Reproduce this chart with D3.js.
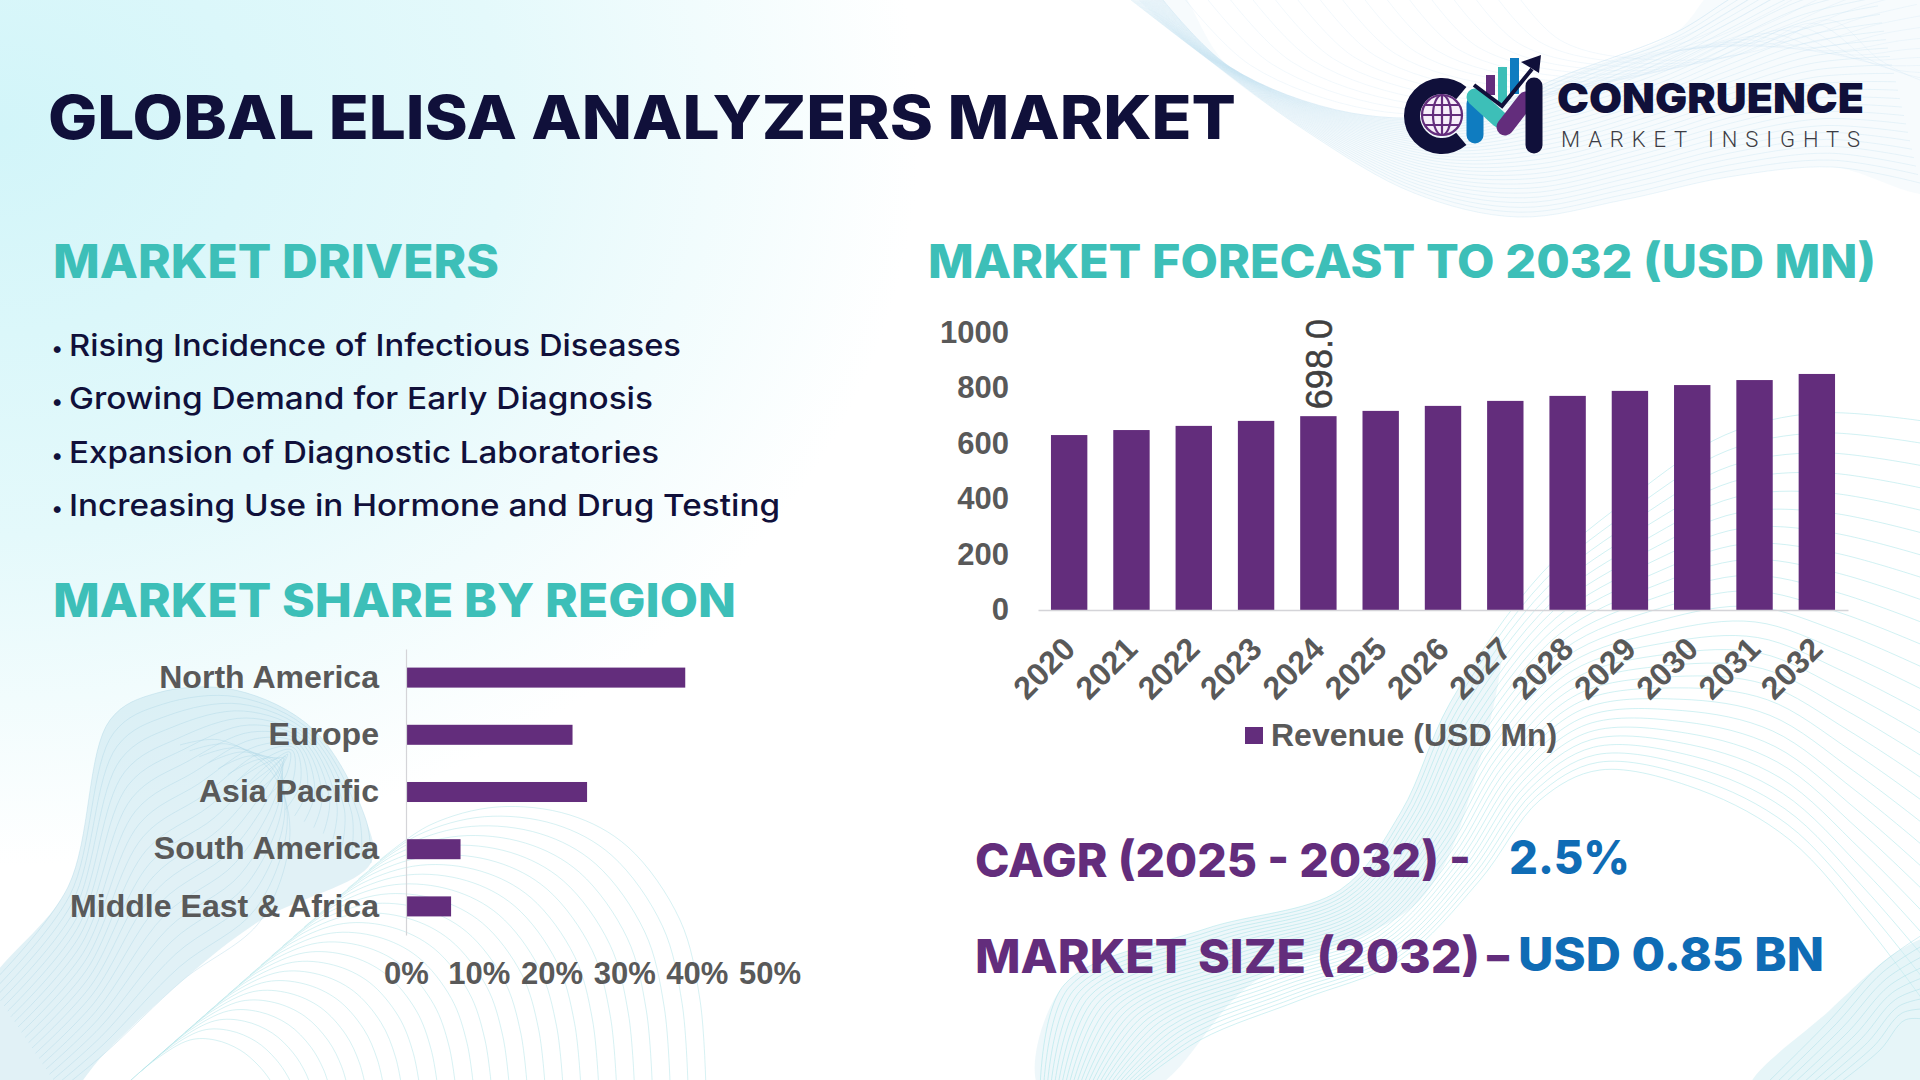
<!DOCTYPE html>
<html>
<head>
<meta charset="utf-8">
<script src="https://cdn.jsdelivr.net/npm/d3@7"></script>
<style>
html, body { margin: 0; padding: 0; background: #fff; }
svg { display: block; }
.chart text { font-family: "Liberation Sans", Arial, sans-serif; font-weight: 700; fill: #595959; font-size: 31px; }
.head { font-family: Inter, sans-serif; }
</style>
</head>
<body>
<div id="chart"></div>
<script>
// chart data
const regions = ["North America", "Europe", "Asia Pacific", "South America", "Middle East & Africa"];
const regionShare = [38.4, 22.9, 24.9, 7.5, 6.2];
const shareTicks = [0, 10, 20, 30, 40, 50];

const years = ["2020", "2021", "2022", "2023", "2024", "2025", "2026", "2027", "2028", "2029", "2030", "2031", "2032"];
const revenue = [630, 648, 663, 681, 698, 717, 735, 753, 771, 789, 810, 828, 850];
const revenueTicks = [0, 200, 400, 600, 800, 1000];
const labelledYear = "2024";
const seriesName = "Revenue (USD Mn)";

const drivers = [
  "Rising Incidence of Infectious Diseases",
  "Growing Demand for Early Diagnosis",
  "Expansion of Diagnostic Laboratories",
  "Increasing Use in Hormone and Drug Testing"
];

const navy = "#10103a", teal = "#3dbfb8", purple = "#632d7c", blue = "#0f6cb5";

var svg = d3.select("#chart").append("svg")
  .attr("width", 1920)
  .attr("height", 1080);

var defs = svg.append("defs");

// background wash, top left
var wash = defs.append("radialGradient").attr("id", "wash")
  .attr("gradientUnits", "userSpaceOnUse")
  .attr("cx", 0).attr("cy", 130).attr("r", 920)
  .attr("gradientTransform", "translate(0,130) scale(1,0.8) translate(0,-130)");
wash.append("stop").attr("offset", 0).attr("stop-color", "#d2f5f9");
wash.append("stop").attr("offset", 0.55).attr("stop-color", "#e4f9fb");
wash.append("stop").attr("offset", 1).attr("stop-color", "#ffffff");
svg.append("rect").attr("width", 1920).attr("height", 1080).attr("fill", "#fff");
svg.append("rect").attr("width", 1920).attr("height", 1080).attr("fill", "url(#wash)");

// decorative line-art shapes behind the chart
var smooth = d3.line().curve(d3.curveCatmullRom.alpha(0.5));

function meshBand(a, b, n, color, width) {
  var g = svg.append("g").attr("fill", "none").attr("stroke", color).attr("stroke-width", width);
  d3.range(n + 1).forEach(function (i) {
    var t = i / n;
    var pts = a.map(function (p, k) { return [p[0] + (b[k][0] - p[0]) * t, p[1] + (b[k][1] - p[1]) * t]; });
    g.append("path").attr("d", smooth(pts));
  });
}

function leaf(outline, color) {
  svg.append("path")
    .attr("d", d3.line().curve(d3.curveCatmullRomClosed.alpha(0.5))(outline))
    .attr("fill", color);
}

// top right ribbon
const trLow = [[1131,0],[1205,57],[1309,133],[1414,193],[1518,217],[1623,200],[1728,177],[1832,167],[1920,183]];
const trHigh = [[1163,0],[1230,67],[1351,113],[1466,113],[1570,73],[1675,33],[1728,0],[1790,-40],[1860,-70]];
const trCorner = [[1500,-30],[1560,40],[1660,60],[1760,50],[1830,20],[1880,60],[1920,80],[1960,90],[1990,100]];
leaf([[1125,-20],[1205,57],[1309,133],[1414,193],[1518,217],[1623,200],[1728,177],[1832,167],[1940,190],[1940,-20],[1728,-20],[1675,33],[1570,73],[1466,113],[1351,113],[1230,67],[1170,-20]], "rgba(226,242,248,0.28)");
meshBand(trLow, trHigh, 30, "rgba(190,222,238,0.30)", 1);
meshBand(trHigh, trCorner, 16, "rgba(195,225,240,0.22)", 1);

// bottom left ribbon and arches
const blLeaf = [[-20,1000],[68,887],[110,720],[157,693],[235,690],[314,730],[366,820],[371,863],[261,920],[183,980],[105,1053],[60,1100],[-20,1100]];
leaf(blLeaf, "rgba(196,228,238,0.50)");
const blOuter = [[380,860],[430,825],[497,807],[570,815],[628,847],[680,920],[700,1000],[706,1090]];
const blInner = [[120,1090],[155,1060],[190,1040],[215,1040],[240,1050],[258,1065],[270,1080],[278,1095]];
meshBand(blOuter, blInner, 24, "rgba(160,222,226,0.42)", 1);
const blRibA = [[-10,985],[68,887],[110,720],[157,693],[235,690],[314,730],[366,820],[371,863]];
const blRibB = [[60,1090],[105,1053],[183,980],[261,920],[290,830],[270,770],[220,740],[180,745]];
meshBand(blRibA, blRibB, 20, "rgba(165,210,226,0.36)", 1);

// bottom right ribbon and arches
const brEdge = [[1040,1090],[1064,985],[1205,929],[1340,890],[1401,812],[1450,703],[1542,573],[1634,495],[1725,435],[1817,413],[1930,422]];
const brInner = [[1130,1090],[1200,1040],[1300,1000],[1400,960],[1480,880],[1540,800],[1600,770],[1700,790],[1790,840],[1870,930],[1930,1010]];
leaf([[1040,1090],[1064,985],[1205,929],[1340,890],[1401,812],[1450,703],[1500,640],[1480,760],[1420,900],[1250,985],[1150,1090]], "rgba(205,232,240,0.34)");
meshBand(brEdge, brInner, 26, "rgba(155,224,228,0.46)", 1);
const brCorner = [[1760,1090],[1830,1020],[1880,965],[1930,930]];
const brCornerB = [[1830,1090],[1880,1050],[1905,1020],[1930,1020]];
leaf([[1750,1090],[1830,1010],[1900,950],[1930,940],[1930,1090]], "rgba(205,236,242,0.50)");
meshBand(brCorner, brCornerB, 8, "rgba(165,220,228,0.45)", 1);

// fitted headline text
function label(txt, x0, x1, base, size, weight, color) {
  return svg.append("text")
    .attr("class", "head")
    .attr("x", x0).attr("y", base)
    .attr("textLength", x1 - x0)
    .attr("lengthAdjust", "spacingAndGlyphs")
    .attr("font-size", size).attr("font-weight", weight).attr("fill", color)
    .text(txt);
}

label("GLOBAL ELISA ANALYZERS MARKET", 48, 1236, 139, 61, 800, navy);
label("MARKET DRIVERS", 53, 499, 278, 46, 800, teal);
label("MARKET FORECAST TO 2032 (USD MN)", 928, 1876, 278, 46, 800, teal);
label("MARKET SHARE BY REGION", 53, 736, 617, 46, 800, teal);

const driverBase = [356, 409, 463, 516];
const driverEnd = [681, 653, 659, 780];
drivers.forEach(function (d, i) {
  label(d, 69, driverEnd[i], driverBase[i], 30, 500, navy);
  svg.append("text").attr("class", "head").attr("x", 51).attr("y", driverBase[i])
    .attr("font-size", 22).attr("fill", navy).text("•");
});

label("CAGR (2025 - 2032) -", 975, 1471, 877, 47, 800, purple);
label("2.5%", 1509, 1630, 874, 47, 800, blue);
label("MARKET SIZE (2032)", 975, 1480, 973, 47, 800, purple);
label("–", 1487, 1509, 972, 47, 800, purple);
label("USD 0.85 BN", 1518, 1824, 971, 47, 800, blue);

// bar chart: market share by region
var shareChart = svg.append("g").attr("class", "chart");

var xShare = d3.scaleLinear().domain([0, 50]).range([406, 769.6]);
var yRegion = d3.scaleBand().domain(regions).range([649, 935]).paddingInner(0.65).paddingOuter(0.325);

shareChart.selectAll("rect")
  .data(regions)
  .enter().append("rect")
  .attr("x", xShare(0))
  .attr("y", function (d) { return yRegion(d); })
  .attr("width", function (d, i) { return xShare(regionShare[i]) - xShare(0); })
  .attr("height", yRegion.bandwidth())
  .attr("fill", purple);

var leftAxis = shareChart.append("g")
  .attr("transform", "translate(" + xShare(0) + ",0)")
  .call(d3.axisLeft(yRegion).tickSize(0).tickPadding(27));
leftAxis.select(".domain").attr("stroke", "#d4d4d8").attr("stroke-width", 1.2);
leftAxis.selectAll("text").style("font-size", "32.1px");

var shareAxis = shareChart.append("g")
  .attr("transform", "translate(0,935)")
  .call(d3.axisBottom(xShare).tickValues(shareTicks).tickSize(0).tickPadding(27).tickFormat(function (d) { return d + "%"; }));
shareAxis.select(".domain").remove();

// column chart: market forecast
var forecast = svg.append("g").attr("class", "chart");

var xYear = d3.scaleBand().domain(years).range([1038, 1848]).paddingInner(0.416).paddingOuter(0.208);
var yRev = d3.scaleLinear().domain([0, 1000]).range([610, 332.3]);

forecast.selectAll("rect")
  .data(years)
  .enter().append("rect")
  .attr("x", function (d) { return xYear(d); })
  .attr("y", function (d, i) { return yRev(revenue[i]); })
  .attr("width", xYear.bandwidth())
  .attr("height", function (d, i) { return yRev(0) - yRev(revenue[i]); })
  .attr("fill", purple);

var revAxis = forecast.append("g")
  .attr("transform", "translate(1038,0)")
  .call(d3.axisLeft(yRev).tickValues(revenueTicks).tickSize(0).tickPadding(29).tickFormat(d3.format("d")));
revAxis.select(".domain").remove();

var yearAxis = forecast.append("g")
  .attr("transform", "translate(0,610)")
  .call(d3.axisBottom(xYear).tickSize(0).tickPadding(0));
yearAxis.select(".domain").attr("stroke", "#d4d4d8").attr("stroke-width", 1.5);
yearAxis.selectAll("text")
  .attr("text-anchor", "end")
  .attr("transform", "translate(-8,25) rotate(-45)")
  .attr("y", 0)
  .attr("dy", "0.7em")
  .style("font-size", "32px");

// single data label, turned on its side
var labelIdx = years.indexOf(labelledYear);
forecast.append("text")
  .attr("transform", "translate(" + (xYear(labelledYear) + xYear.bandwidth() / 2 + 14) + "," + (yRev(revenue[labelIdx]) - 7) + ") rotate(-90)")
  .style("font-weight", 400)
  .style("font-size", "36px")
  .style("fill", "#404040")
  .style("stroke", "#404040")
  .style("stroke-width", 0.5)
  .text(revenue[labelIdx].toFixed(1));

// legend
forecast.append("rect").attr("x", 1245).attr("y", 727).attr("width", 18).attr("height", 17).attr("fill", purple);
forecast.append("text").attr("x", 1271).attr("y", 746).style("font-size", "32px").text(seriesName);

// logo
var logo = svg.append("g");
logo.append("path")
  .attr("transform", "translate(1442,116)")
  .attr("d", d3.arc().innerRadius(22).outerRadius(38).startAngle(140 * Math.PI / 180).endAngle(400 * Math.PI / 180)())
  .attr("fill", navy);
var globe = logo.append("g").attr("transform", "translate(1442,115)").attr("fill", "none").attr("stroke", purple).attr("stroke-width", 2.2);
globe.append("circle").attr("r", 20).attr("fill", "#f6eefa");
globe.append("ellipse").attr("rx", 9).attr("ry", 20);
globe.append("line").attr("x1", -20).attr("x2", 20);
globe.append("line").attr("x1", -17).attr("x2", 17).attr("y1", -10).attr("y2", -10);
globe.append("line").attr("x1", -17).attr("x2", 17).attr("y1", 10).attr("y2", 10);
globe.append("line").attr("y1", -20).attr("y2", 20);

logo.append("rect").attr("x", 1486).attr("y", 75).attr("width", 9).attr("height", 20).attr("fill", purple);
logo.append("rect").attr("x", 1498).attr("y", 67).attr("width", 9).attr("height", 36).attr("fill", teal);
logo.append("rect").attr("x", 1510).attr("y", 58).attr("width", 9).attr("height", 36).attr("fill", "#0f7cc0");

function stroke(x1, y1, x2, y2, color) {
  logo.append("line").attr("x1", x1).attr("y1", y1).attr("x2", x2).attr("y2", y2)
    .attr("stroke", color).attr("stroke-width", 17).attr("stroke-linecap", "round");
}
stroke(1475, 104, 1475, 135, "#0f7cc0");
stroke(1475, 97, 1499, 119, teal);
stroke(1505, 127, 1526, 100, purple);
stroke(1534, 86, 1534, 145, navy);
logo.append("path")
  .attr("d", d3.line()([[1474, 85], [1502, 106], [1532, 69]]))
  .attr("fill", "none").attr("stroke", navy).attr("stroke-width", 4);
logo.append("path").attr("d", d3.line()([[1541, 55], [1521, 62], [1539, 73]])).attr("fill", navy);

label("CONGRUENCE", 1557, 1864, 113, 41, 900, navy);
svg.append("text")
  .attr("x", 1561).attr("y", 147)
  .attr("textLength", 299).attr("lengthAdjust", "spacing")
  .attr("font-family", "Roboto, sans-serif").attr("font-size", 22).attr("font-weight", 300).attr("fill", "#3c3c44")
  .text("MARKET INSIGHTS");
</script>
</body>
</html>
